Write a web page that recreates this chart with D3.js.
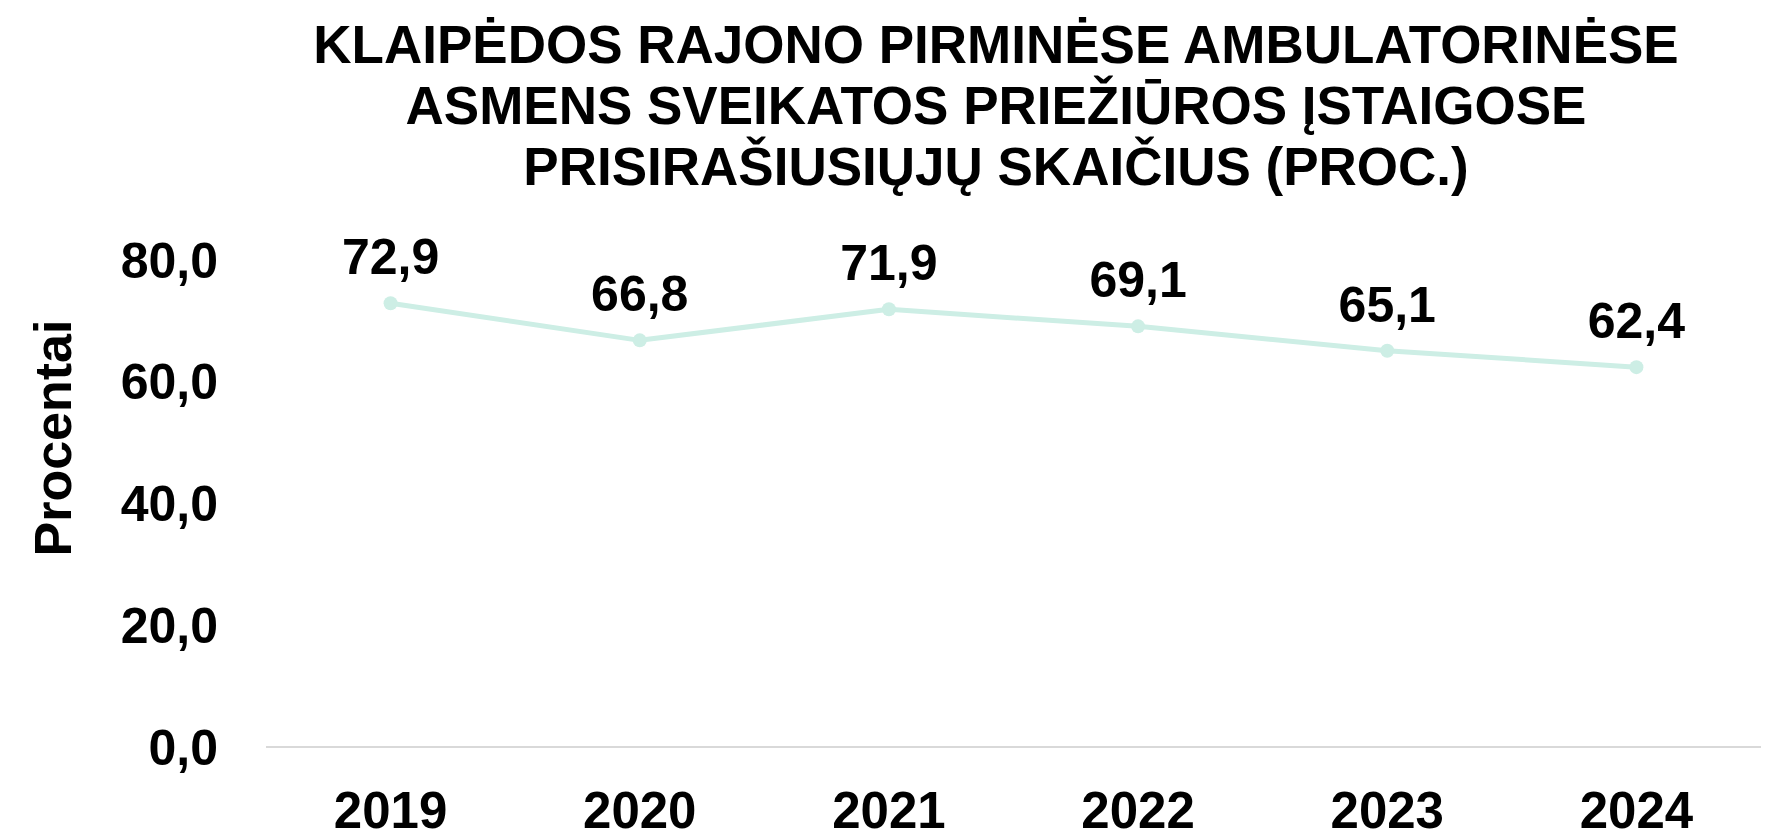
<!DOCTYPE html>
<html>
<head>
<meta charset="utf-8">
<script src="https://cdn.jsdelivr.net/npm/d3@7"></script>
<style>
  body { margin: 0; background: #fff; }
  text { font-family: "Liberation Sans", Arial, sans-serif; font-weight: bold; fill: #000; }
</style>
</head>
<body>
<div id="chart"></div>
<script>
// Chart data
var years = ["2019", "2020", "2021", "2022", "2023", "2024"];
var values = [72.9, 66.8, 71.9, 69.1, 65.1, 62.4];
var yTicks = [0, 20, 40, 60, 80];
var titleLines = [
  "KLAIPĖDOS RAJONO PIRMINĖSE AMBULATORINĖSE",
  "ASMENS SVEIKATOS PRIEŽIŪROS ĮSTAIGOSE",
  "PRISIRAŠIUSIŲJŲ SKAIČIUS (PROC.)"
];
var yLabel = "Procentai";

// SVG size
var svgWidth = 1768;
var svgHeight = 835;

var margin = { top: 260, right: 7, bottom: 88, left: 266 };

var svg = d3.select("#chart")
  .append("svg")
  .attr("width", svgWidth)
  .attr("height", svgHeight);

// comma as decimal separator
var fmt = function(v) { return d3.format(".1f")(v).replace(".", ","); };

var xScale = d3.scaleBand()
  .domain(years)
  .range([margin.left, svgWidth - margin.right])
  .padding(0);

var yScale = d3.scaleLinear()
  .domain([0, 80])
  .range([svgHeight - margin.bottom, margin.top]);

// Baseline gridline
svg.append("line")
  .attr("x1", margin.left)
  .attr("x2", svgWidth - margin.right)
  .attr("y1", yScale(0))
  .attr("y2", yScale(0))
  .attr("stroke", "#d9d9d9")
  .attr("stroke-width", 2);

// Y axis
var leftAxis = d3.axisLeft(yScale)
  .tickValues(yTicks)
  .tickSize(0)
  .tickPadding(48)
  .tickFormat(fmt);

var yAxisG = svg.append("g")
  .attr("transform", `translate(${margin.left}, 0)`)
  .call(leftAxis);
yAxisG.select(".domain").remove();
yAxisG.selectAll("text")
  .attr("dy", "0.34em")
  .style("font-size", "50px")
  .style("font-family", "'Liberation Sans', Arial, sans-serif")
  .style("font-weight", "bold")
  .attr("fill", "#000");

// X axis
var bottomAxis = d3.axisBottom(xScale).tickSize(0);
var xAxisG = svg.append("g")
  .attr("transform", `translate(0, ${yScale(0)})`)
  .call(bottomAxis);
xAxisG.select(".domain").remove();
xAxisG.selectAll("text")
  .attr("y", 81)
  .attr("dy", 0)
  .style("font-size", "51px")
  .style("font-family", "'Liberation Sans', Arial, sans-serif")
  .style("font-weight", "bold")
  .attr("fill", "#000");

// Line
var line = d3.line()
  .x(function(d, i) { return xScale(years[i]) + xScale.bandwidth() / 2; })
  .y(function(d) { return yScale(d); });

svg.append("path")
  .datum(values)
  .attr("d", line)
  .attr("fill", "none")
  .attr("stroke", "#cdeee5")
  .attr("stroke-width", 5)
  .attr("stroke-linejoin", "round");

// Points
svg.selectAll("circle.pt")
  .data(values)
  .enter()
  .append("circle")
  .attr("class", "pt")
  .attr("cx", function(d, i) { return xScale(years[i]) + xScale.bandwidth() / 2; })
  .attr("cy", function(d) { return yScale(d); })
  .attr("r", 7)
  .attr("fill", "#cdeee5");

// Data labels
svg.selectAll("text.lbl")
  .data(values)
  .enter()
  .append("text")
  .attr("class", "lbl")
  .attr("x", function(d, i) { return xScale(years[i]) + xScale.bandwidth() / 2; })
  .attr("y", function(d) { return yScale(d) - 29; })
  .attr("text-anchor", "middle")
  .style("font-size", "50px")
  .text(fmt);

// Y axis title
svg.append("text")
  .attr("transform", "translate(71, 438) rotate(-90)")
  .attr("text-anchor", "middle")
  .style("font-size", "52px")
  .text(yLabel);

// Chart title
svg.selectAll("text.title")
  .data(titleLines)
  .enter()
  .append("text")
  .attr("class", "title")
  .attr("x", 996)
  .attr("y", function(d, i) { return 63 + i * 61; })
  .attr("text-anchor", "middle")
  .style("font-size", "53px")
  .text(function(d) { return d; });
</script>
</body>
</html>
